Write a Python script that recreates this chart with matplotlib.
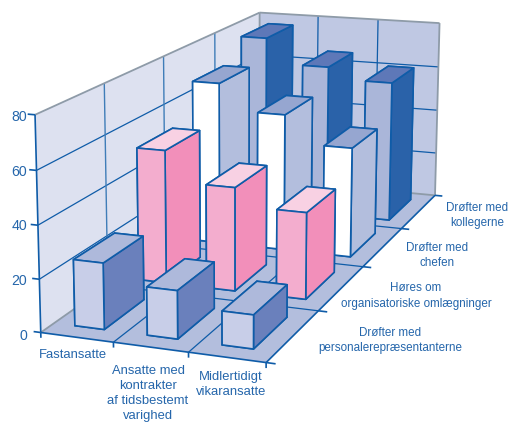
import numpy as np
import matplotlib
matplotlib.use("Agg")
import matplotlib.pyplot as plt
from mpl_toolkits.mplot3d.art3d import Poly3DCollection

plt.rcParams["font.family"] = ["Liberation Sans", "DejaVu Sans"]

W, H = 509, 426

# Employment groups along the front edge
groups = ["Fastansatte",
          "Ansatte med\nkontrakter\naf tidsbestemt\nvarighed",
          "Midlertidigt\nvikaransatte"]
# Involvement types, front row first
rows = ["Drøfter med\npersonalerepræsentanterne",
        "Høres om\norganisatoriske omlægninger",
        "Drøfter med\nchefen",
        "Drøfter med\nkollegerne"]
personalerep = [25, 18, 12.5]
hoeres = [53, 41, 34]
chefen = [68, 57, 45.5]
kolleger = [77, 66, 61]
series = [personalerep, hoeres, chefen, kolleger]
z_ticks = [0, 20, 40, 60, 80]

# (front, side, top) colours for each row
row_colors = [("#C8CEE8", "#6A80BC", "#AEB9DB"),
              ("#F3ADCE", "#F28FBA", "#F8D1E3"),
              ("#FFFFFF", "#B3BEDD", "#96A6D0"),
              ("#AAB6D9", "#2A62A9", "#5E78B8")]
EDGE = "#0F5CA8"
FRAME = "#8E9BA8"
TEXT = "#2566AB"

NX, NY, ZMAX = len(groups), len(rows), z_ticks[-1]

# Camera: frame points of the box and where they fall on the canvas
box_pts = np.array([
    (0, 0, 0), (1, 0, 0), (2, 0, 0), (3, 0, 0),
    (3, 1, 0), (3, 2, 0), (3, 3, 0), (3, 4, 0),
    (0, 0, 80), (0, 1, 80), (0, 2, 80), (0, 3, 80), (0, 4, 80),
    (1, 4, 80), (2, 4, 80), (3, 4, 80),
    (0, 4, 0), (0, 0, 40), (3, 4, 40)], float)
canvas_pts = np.array([
    (41, 334), (114, 342.5), (188, 352), (267, 362),
    (318, 310), (362, 267), (402, 229), (435, 197),
    (35, 114), (104, 83), (163, 57), (215, 33), (260, 13),
    (318, 17), (378, 19), (440, 23),
    (259, 177), (38, 225), (437, 109)], float)


def solve_camera(p3, p2):
    rowsA = []
    for (x, y, z), (u, v) in zip(p3, p2):
        rowsA.append([x, y, z, 1, 0, 0, 0, 0, -u * x, -u * y, -u * z, -u])
        rowsA.append([0, 0, 0, 0, x, y, z, 1, -v * x, -v * y, -v * z, -v])
    A = np.array(rowsA)
    # scale columns so that the z axis does not dominate the fit
    _, _, vt = np.linalg.svd(A / np.abs(A).max(axis=0))
    P = (vt[-1] / np.abs(A).max(axis=0)).reshape(3, 4)
    if P[2] @ np.array([0, 0, 0, 1]) < 0:
        P = -P
    return P


P = solve_camera(box_pts, canvas_pts)

fig = plt.figure(figsize=(W / 100, H / 100), dpi=100)
pad = (W - H) / 2
ax = fig.add_axes([0, -pad / H, 1, W / H], projection="3d")
ax.set_axis_off()
ax.computed_zorder = False
ax.patch.set_visible(False)

# Express canvas pixels in the axes' projected coordinates
ax.apply_aspect()
(x0, y0), (x1, y1) = ax.transLimits.inverted().transform([(0, 0), (1, 1)])
A2 = np.array([[(x1 - x0) / W, 0, x0],
               [0, -(y1 - y0) / W, y0 + (y1 - y0) * (H + pad) / W],
               [0, 0, 1]])
Q = A2 @ P
M = np.array([Q[0], Q[1], [0, 0, 0, -1], Q[2]])
ax.get_proj = lambda: M


def wall(corners, color, z):
    ax.add_collection3d(Poly3DCollection([corners], facecolors=color,
                                         edgecolors="none", zorder=z))


def line(a, b, color=EDGE, lw=0.9, z=3):
    ax.plot(*zip(a, b), color=color, lw=lw, zorder=z, solid_capstyle="butt")


wall([(0, 0, 0), (0, NY, 0), (0, NY, ZMAX), (0, 0, ZMAX)], "#DDE1F0", 1)
wall([(0, NY, 0), (NX, NY, 0), (NX, NY, ZMAX), (0, NY, ZMAX)], "#BFC8E3", 1)
wall([(0, 0, 0), (NX, 0, 0), (NX, NY, 0), (0, NY, 0)], "#B3BEDD", 1)

# Wall and floor grid
for t in z_ticks[1:-1]:
    line((0, 0, t), (0, NY, t))
    line((0, NY, t), (NX, NY, t))
for j in range(1, NY):
    line((0, j, 0), (0, j, ZMAX), color="#3F7DB8", lw=1.0)
    line((0, j, 0), (NX, j, 0))
for i in range(1, NX):
    line((i, NY, 0), (i, NY, ZMAX))
    line((i, 0, 0), (i, NY, 0))

# Frame
for a, b in [((0, 0, ZMAX), (0, NY, ZMAX)), ((0, NY, ZMAX), (NX, NY, ZMAX)),
             ((NX, NY, ZMAX), (NX, NY, 0)), ((0, NY, ZMAX), (0, NY, 0)),
             ((0, 0, 0), (0, NY, 0)), ((0, NY, 0), (NX, NY, 0))]:
    line(a, b, color=FRAME, lw=1.3, z=4)
line((0, 0, 0), (0, 0, ZMAX), lw=1.2, z=4)
line((0, 0, 0), (NX, 0, 0), lw=1.2, z=4)
line((NX, 0, 0), (NX, NY, 0), lw=1.2, z=4)

# Axis ticks
for t in z_ticks:
    line((0, 0, t), (-0.1, 0, t), lw=1.2, z=4)
for i in range(NX + 1):
    line((i, 0, 0), (i, 0, -2), lw=1.2, z=4)
for j in range(NY + 1):
    line((NX, j, 0), (NX + 0.12, j, 0), lw=1.2, z=4)

# Bars, back row first
bar_dx, bar_dy = 0.41, 0.62
z = 10
for j in reversed(range(NY)):
    front, side, top = row_colors[j]
    # bar3d face order: bottom, top, front, back, left, right
    faces = [top, top, front, front, side, side]
    for i in range(NX):
        ax.bar3d(i + 0.29, j + (1 - bar_dy) / 2, 0,
                 bar_dx, bar_dy, series[j][i],
                 color=faces, shade=False, edgecolor=EDGE, linewidth=1.2,
                 zorder=z)
        z += 1


def label(px, py, s, size):
    fig.text(px / W, 1 - py / H, s, ha="center", va="center", color=TEXT,
             fontsize=size, linespacing=1.34)


for t, py in zip(z_ticks, [336, 281, 226, 172, 117]):
    fig.text(27 / W, 1 - py / H, str(t), ha="right", va="center", color=TEXT,
             fontsize=10.2)
for s, (px, py) in zip(groups, [(73, 355), (148, 393.5), (231, 384.5)]):
    label(px, py, s, 9.4)
for s, (px, py) in zip(rows, [(390, 340.5), (416, 296), (437, 255.5), (477, 215.5)]):
    label(px, py, s, 8.4)

fig.savefig("out.png", dpi=100)
